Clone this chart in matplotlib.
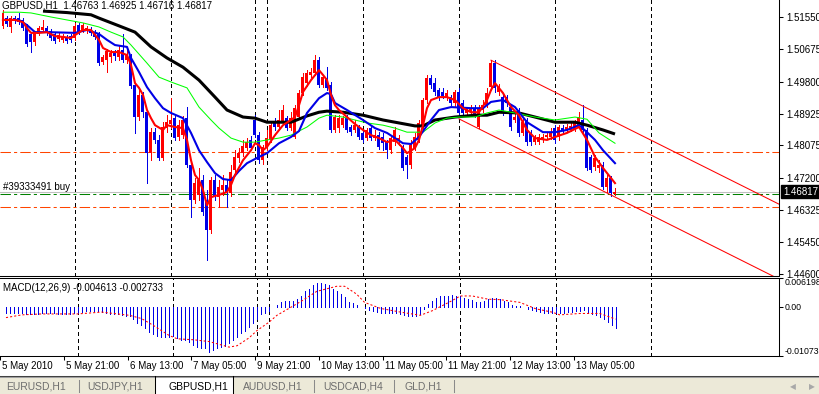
import matplotlib
matplotlib.use("Agg")
import matplotlib.pyplot as plt
import matplotlib.transforms as mtransforms
from matplotlib.patches import Rectangle
from matplotlib.lines import Line2D
from matplotlib.ticker import FormatStrFormatter
import numpy as np

plt.rcParams['font.family'] = ['Liberation Sans', 'DejaVu Sans']

# ---------------- data (GBPUSD H1) ----------------
opens = [1.5131, 1.5152, 1.5128, 1.5152, 1.5152, 1.5147, 1.5131, 1.5109, 1.5087, 1.5109,
         1.5120, 1.5125, 1.5117, 1.5109, 1.5095, 1.5093, 1.5101, 1.5103, 1.5098, 1.5133,
         1.5120, 1.5117, 1.5122, 1.5114, 1.5109, 1.5033, 1.5038, 1.5047, 1.5060, 1.5047,
         1.5065, 1.5038, 1.5049, 1.4971, 1.4884, 1.4944, 1.4897, 1.4786, 1.4843, 1.4822,
         1.4773, 1.4854, 1.4865, 1.4881, 1.4830, 1.4835, 1.4881, 1.4754, 1.4659, 1.4673,
         1.4713, 1.4659, 1.4578, 1.4713, 1.4667, 1.4686, 1.4700, 1.4678, 1.4740, 1.4773,
         1.4786, 1.4800, 1.4822, 1.4876, 1.4835, 1.4767, 1.4800, 1.4822, 1.4870, 1.4857,
         1.4870, 1.4881, 1.4854, 1.4830, 1.4884, 1.4949, 1.4976, 1.4998, 1.5003, 1.5038,
         1.4971, 1.4990, 1.4971, 1.4849, 1.4854, 1.4862, 1.4881, 1.4857, 1.4849, 1.4857,
         1.4841, 1.4827, 1.4854, 1.4827, 1.4835, 1.4830, 1.4816, 1.4794, 1.4816, 1.4822,
         1.4803, 1.4776, 1.4754, 1.4800, 1.4822, 1.4862, 1.4930, 1.4990, 1.4976, 1.4957,
         1.4952, 1.4935, 1.4938, 1.4922, 1.4952, 1.4922, 1.4895, 1.4897, 1.4908, 1.4857,
         1.4903, 1.4916, 1.4965, 1.5030, 1.4952, 1.4938, 1.4938, 1.4911, 1.4876, 1.4903,
         1.4841, 1.4876, 1.4841, 1.4816, 1.4816, 1.4822, 1.4830, 1.4830, 1.4854, 1.4830,
         1.4854, 1.4849, 1.4849, 1.4849, 1.4857, 1.4876, 1.4849, 1.4776, 1.4748, 1.4746,
         1.4754, 1.4694, 1.4719, 1.46763]
highs = [1.5174, 1.5158, 1.5158, 1.5158, 1.5166, 1.5152, 1.5136, 1.5114, 1.5117, 1.5131,
         1.5147, 1.5131, 1.5122, 1.5114, 1.5112, 1.5109, 1.5106, 1.5109, 1.5139, 1.5139,
         1.5139, 1.5131, 1.5128, 1.5120, 1.5114, 1.5052, 1.5068, 1.5065, 1.5065, 1.5079,
         1.5109, 1.5065, 1.5055, 1.4976, 1.4957, 1.4952, 1.4903, 1.4854, 1.4854, 1.4835,
         1.4870, 1.4889, 1.4935, 1.4887, 1.4876, 1.4887, 1.4911, 1.4767, 1.4719, 1.4746,
         1.4727, 1.4686, 1.4721, 1.4727, 1.4713, 1.4727, 1.4713, 1.4754, 1.4794, 1.4800,
         1.4822, 1.4827, 1.4832, 1.4889, 1.4843, 1.4808, 1.4849, 1.4870, 1.4881, 1.4903,
         1.4916, 1.4887, 1.4897, 1.4916, 1.4957, 1.5003, 1.5011, 1.5017, 1.5052, 1.5047,
         1.4998, 1.5019, 1.4979, 1.4889, 1.4889, 1.4887, 1.4889, 1.4862, 1.4876, 1.4862,
         1.4849, 1.4854, 1.4862, 1.4849, 1.4843, 1.4841, 1.4822, 1.4835, 1.4857, 1.4835,
         1.4808, 1.4781, 1.4822, 1.4841, 1.4876, 1.4935, 1.4998, 1.4998, 1.4990, 1.4963,
         1.4963, 1.4957, 1.4944, 1.4957, 1.4963, 1.4930, 1.4911, 1.4916, 1.4916, 1.4916,
         1.4930, 1.4963, 1.5038, 1.5038, 1.4973, 1.4944, 1.4944, 1.4916, 1.4892, 1.4908,
         1.4881, 1.4881, 1.4849, 1.4835, 1.4838, 1.4838, 1.4843, 1.4854, 1.4862, 1.4862,
         1.4862, 1.4865, 1.4870, 1.4876, 1.4897, 1.4916, 1.4854, 1.4781, 1.4781, 1.4767,
         1.4762, 1.4727, 1.4724, 1.46925]
lows = [1.5125, 1.5131, 1.5114, 1.5139, 1.5136, 1.5120, 1.5076, 1.5060, 1.5079, 1.5106,
        1.5114, 1.5106, 1.5093, 1.5084, 1.5090, 1.5087, 1.5084, 1.5087, 1.5093, 1.5109,
        1.5114, 1.5112, 1.5106, 1.5095, 1.5025, 1.5028, 1.5006, 1.5033, 1.5038, 1.5038,
        1.5033, 1.5030, 1.4963, 1.4841, 1.4876, 1.4884, 1.4705, 1.4767, 1.4813, 1.4767,
        1.4767, 1.4843, 1.4854, 1.4822, 1.4822, 1.4827, 1.4748, 1.4613, 1.4651, 1.4659,
        1.4618, 1.4496, 1.4570, 1.4659, 1.4640, 1.4673, 1.4640, 1.4670, 1.4732, 1.4762,
        1.4778, 1.4794, 1.4794, 1.4830, 1.4759, 1.4757, 1.4794, 1.4816, 1.4849, 1.4851,
        1.4865, 1.4849, 1.4849, 1.4827, 1.4879, 1.4944, 1.4968, 1.4992, 1.4998, 1.4965,
        1.4965, 1.4957, 1.4843, 1.4843, 1.4843, 1.4857, 1.4843, 1.4835, 1.4843, 1.4824,
        1.4816, 1.4822, 1.4822, 1.4822, 1.4797, 1.4794, 1.4773, 1.4786, 1.4808, 1.4808,
        1.4740, 1.4719, 1.4746, 1.4794, 1.4816, 1.4851, 1.4922, 1.4963, 1.4944, 1.4930,
        1.4935, 1.4930, 1.4916, 1.4914, 1.4887, 1.4889, 1.4889, 1.4892, 1.4884, 1.4854,
        1.4897, 1.4911, 1.4957, 1.4952, 1.4944, 1.4889, 1.4914, 1.4849, 1.4870, 1.4832,
        1.4835, 1.4808, 1.4808, 1.4811, 1.4811, 1.4816, 1.4824, 1.4824, 1.4813, 1.4822,
        1.4841, 1.4843, 1.4846, 1.4846, 1.4854, 1.4843, 1.4740, 1.4735, 1.4740, 1.4735,
        1.4689, 1.4681, 1.4670, 1.46716]
closes = [1.5166, 1.5136, 1.5152, 1.5144, 1.5141, 1.5125, 1.5082, 1.5087, 1.5112, 1.5125,
          1.5128, 1.5112, 1.5098, 1.5090, 1.5106, 1.5103, 1.5090, 1.5093, 1.5131, 1.5114,
          1.5133, 1.5125, 1.5112, 1.5101, 1.5030, 1.5047, 1.5063, 1.5057, 1.5049, 1.5065,
          1.5038, 1.5052, 1.4968, 1.4884, 1.4944, 1.4897, 1.4786, 1.4843, 1.4822, 1.4773,
          1.4857, 1.4870, 1.4876, 1.4827, 1.4862, 1.4876, 1.4754, 1.4659, 1.4705, 1.4713,
          1.4626, 1.4578, 1.4713, 1.4667, 1.4694, 1.4700, 1.4678, 1.4735, 1.4776, 1.4786,
          1.4805, 1.4816, 1.4800, 1.4835, 1.4767, 1.4803, 1.4827, 1.4862, 1.4857, 1.4876,
          1.4903, 1.4854, 1.4881, 1.4908, 1.4949, 1.4992, 1.5003, 1.5006, 1.5038, 1.4971,
          1.4992, 1.4963, 1.4849, 1.4884, 1.4881, 1.4881, 1.4849, 1.4843, 1.4862, 1.4830,
          1.4822, 1.4849, 1.4827, 1.4835, 1.4803, 1.4813, 1.4794, 1.4827, 1.4849, 1.4827,
          1.4746, 1.4754, 1.4808, 1.4830, 1.4868, 1.4930, 1.4990, 1.4971, 1.4952, 1.4938,
          1.4941, 1.4949, 1.4922, 1.4952, 1.4895, 1.4895, 1.4903, 1.4908, 1.4889, 1.4908,
          1.4916, 1.4949, 1.5030, 1.4963, 1.4965, 1.4897, 1.4922, 1.4857, 1.4884, 1.4841,
          1.4870, 1.4816, 1.4816, 1.4827, 1.4830, 1.4830, 1.4835, 1.4843, 1.4822, 1.4857,
          1.4846, 1.4857, 1.4860, 1.4868, 1.4884, 1.4849, 1.4746, 1.4740, 1.4773, 1.4754,
          1.4694, 1.4719, 1.4678, 1.46817]

# moving averages (bar index, price)
red_ma_idx = [0, 3, 5, 6, 7, 9, 11, 13, 15, 17, 18, 20, 22, 24, 25, 27, 29, 31, 32, 33,
              34, 35, 36, 37, 38, 40, 41, 43, 45, 46, 47, 48, 49, 50, 51, 52, 54, 56, 57, 58,
              60, 62, 63, 64, 65, 66, 68, 70, 72, 73, 74, 75, 77, 79, 80, 81, 82, 83, 84, 86,
              88, 90, 92, 94, 96, 98, 100, 101, 103, 104, 105, 106, 107, 109, 111, 113, 115, 117, 119, 121,
              122, 123, 125, 127, 129, 131, 133, 136, 138, 141, 144, 146, 148, 150, 153]
red_ma_val = [1.5147, 1.5147, 1.5141, 1.5125, 1.5112, 1.5112, 1.5114, 1.5103, 1.5101, 1.5098,
              1.5106, 1.5120, 1.5120, 1.5093, 1.5071, 1.5060, 1.5060, 1.5052, 1.5025, 1.4976,
              1.4963, 1.4944, 1.4903, 1.4881, 1.4862, 1.4849, 1.4862, 1.4857, 1.4854, 1.4822,
              1.4767, 1.4727, 1.4713, 1.4686, 1.4645, 1.4667, 1.4673, 1.4681, 1.4700, 1.4727,
              1.4767, 1.4794, 1.4813, 1.4808, 1.4794, 1.4803, 1.4835, 1.4862, 1.4876, 1.4884,
              1.4916, 1.4952, 1.4984, 1.5011, 1.4998, 1.4984, 1.4944, 1.4916, 1.4903, 1.4884,
              1.4865, 1.4849, 1.4835, 1.4827, 1.4816, 1.4822, 1.4800, 1.4786, 1.4800, 1.4822,
              1.4862, 1.4908, 1.4930, 1.4938, 1.4938, 1.4930, 1.4908, 1.4897, 1.4897, 1.4930,
              1.4957, 1.4976, 1.4949, 1.4911, 1.4889, 1.4849, 1.4827, 1.4822, 1.4830, 1.4841,
              1.4857, 1.4822, 1.4776, 1.4746, 1.4705]
blue_ma_idx = [0, 4, 6, 8, 11, 18, 21, 24, 26, 28, 31, 32, 34, 36, 38, 40, 42, 45, 47, 49,
               51, 53, 55, 57, 59, 61, 64, 66, 69, 72, 74, 76, 79, 81, 82, 83, 86, 90, 93, 96,
               100, 102, 104, 107, 109, 112, 117, 120, 122, 125, 128, 131, 135, 138, 141, 144, 146, 148, 150, 153]
blue_ma_val = [1.5147, 1.5147, 1.5133, 1.5114, 1.5114, 1.5112, 1.5120, 1.5109, 1.5093, 1.5079,
               1.5074, 1.5044, 1.5006, 1.4965, 1.4935, 1.4908, 1.4895, 1.4881, 1.4841, 1.4794,
               1.4762, 1.4732, 1.4716, 1.4713, 1.4738, 1.4759, 1.4776, 1.4786, 1.4813, 1.4830,
               1.4846, 1.4895, 1.4935, 1.4949, 1.4946, 1.4922, 1.4903, 1.4876, 1.4854, 1.4841,
               1.4813, 1.4811, 1.4830, 1.4876, 1.4903, 1.4911, 1.4908, 1.4908, 1.4925, 1.4930,
               1.4911, 1.4870, 1.4843, 1.4843, 1.4849, 1.4862, 1.4843, 1.4822, 1.4794, 1.4759]
green_ma_idx = [0, 4, 7, 12, 20, 24, 27, 30, 32, 36, 39, 42, 46, 49, 52, 54, 57, 60, 63, 66,
                69, 72, 76, 79, 81, 85, 88, 91, 95, 98, 101, 105, 108, 111, 114, 118, 121, 124, 128, 133,
                138, 143, 146, 149, 153]
green_ma_val = [1.5168, 1.5168, 1.5166, 1.5155, 1.5139, 1.5128, 1.5114, 1.5101, 1.5079, 1.5030,
                1.4992, 1.4979, 1.4963, 1.4911, 1.4876, 1.4854, 1.4827, 1.4816, 1.4816, 1.4822,
                1.4827, 1.4835, 1.4857, 1.4881, 1.4889, 1.4884, 1.4876, 1.4868, 1.4862, 1.4854,
                1.4843, 1.4843, 1.4868, 1.4881, 1.4884, 1.4884, 1.4895, 1.4903, 1.4895, 1.4884,
                1.4876, 1.4884, 1.4878, 1.4841, 1.4813]
black_ma_idx = [10, 16, 22, 24, 29, 33, 37, 41, 45, 49, 53, 56, 60, 63, 66, 72, 76, 79, 81, 85,
                90, 95, 99, 103, 105, 108, 113, 118, 121, 124, 129, 133, 138, 143, 146, 150, 153]
black_ma_val = [1.5171, 1.5167, 1.5161, 1.5152, 1.5131, 1.5114, 1.5074, 1.5044, 1.5019, 1.4984,
                1.4938, 1.4903, 1.4884, 1.4881, 1.4870, 1.4870, 1.4887, 1.4897, 1.4900, 1.4897,
                1.4889, 1.4876, 1.4868, 1.4860, 1.4860, 1.4876, 1.4884, 1.4889, 1.4889, 1.4897,
                1.4895, 1.4884, 1.4870, 1.4870, 1.4862, 1.4849, 1.4838]

# MACD(12,26,9): main (histogram) and signal
macd_main = [-0.0014, -0.0014, -0.0015, -0.0015, -0.0015, -0.0016, -0.0016, -0.0016, -0.0016, -0.0015,
             -0.0015, -0.0015, -0.0015, -0.0016, -0.0016, -0.0016, -0.0016, -0.0015, -0.0013, -0.0011,
             -0.0010, -0.0009, -0.0009, -0.0009, -0.0012, -0.0015, -0.0016, -0.0017, -0.0017, -0.0018,
             -0.0020, -0.0021, -0.0027, -0.0036, -0.0041, -0.0047, -0.0055, -0.0059, -0.0063, -0.0067,
             -0.0067, -0.0066, -0.0064, -0.0068, -0.0073, -0.0073, -0.0078, -0.0084, -0.0087, -0.0089,
             -0.0091, -0.0098, -0.0094, -0.0091, -0.0088, -0.0085, -0.0080, -0.0073, -0.0066, -0.0058,
             -0.0052, -0.0044, -0.0036, -0.0026, -0.0016, -0.0015, -0.0009, -0.0002, 0.0004, 0.0009,
             0.0011, 0.0012, 0.0013, 0.0017, 0.0023, 0.0034, 0.0039, 0.0046, 0.0051, 0.0051,
             0.0049, 0.0047, 0.0038, 0.0033, 0.0027, 0.0020, 0.0010, 0.0007, 0.0003, -0.0002,
             -0.0004, -0.0007, -0.0009, -0.0011, -0.0013, -0.0013, -0.0014, -0.0015, -0.0015, -0.0016,
             -0.0018, -0.0021, -0.0021, -0.0020, -0.0016, -0.0005, 0.0005, 0.0012, 0.0019, 0.0024,
             0.0024, 0.0024, 0.0025, 0.0024, 0.0022, 0.0019, 0.0016, 0.0014, 0.0010, 0.0009,
             0.0013, 0.0016, 0.0019, 0.0019, 0.0016, 0.0013, 0.0009, 0.0004, 0.0001, 0.0001,
             -0.0002, -0.0005, -0.0007, -0.0010, -0.0012, -0.0014, -0.0014, -0.0015, -0.0015, -0.0014,
             -0.0014, -0.0012, -0.0011, -0.0009, -0.0009, -0.0008, -0.0013, -0.0016, -0.0019, -0.0023,
             -0.0027, -0.0034, -0.0041, -0.004613]
signal_idx = [0, 4, 9, 18, 24, 31, 34, 37, 41, 43, 47, 51, 56, 58, 61, 63, 66, 68, 70, 74,
              78, 83, 85, 88, 90, 94, 99, 104, 107, 112, 114, 117, 121, 124, 129, 133, 137, 139, 144, 149, 153]
signal_val = [-0.0024, -0.0018, -0.0016, -0.0016, -0.0012, -0.0019, -0.0026, -0.0041, -0.0063, -0.0070,
              -0.0072, -0.0076, -0.0088, -0.0085, -0.0068, -0.0052, -0.0034, -0.0019, -0.0009, 0.0011,
              0.0033, 0.0044, 0.0044, 0.0027, 0.0009, -0.0004, -0.0012, -0.0019, -0.0009, 0.0013,
              0.0023, 0.0023, 0.0016, 0.0015, 0.0009, -0.0005, -0.0012, -0.0018, -0.0015, -0.0015, -0.002733]

# time axis
tick_idx = [-1, 15, 31, 47, 63, 79, 95, 111, 127, 143]
tick_labels = ["5 May 2010", "5 May 21:00", "6 May 13:00", "7 May 05:00", "9 May 21:00",
               "10 May 13:00", "11 May 05:00", "11 May 21:00", "12 May 13:00", "13 May 05:00"]
separator_idx = [18, 42, 63, 66, 90, 114, 138, 162]

price_ticks = [1.44600, 1.45450, 1.46325, 1.47200, 1.48075, 1.48925, 1.49800, 1.50675, 1.51550]
macd_ticks = [-0.01073, 0.0, 0.006198]
macd_tick_labels = ["-0.01073", "0.00", "0.006198"]

# trade / objects
order_price = 1.46755
order_label = "#39333491 buy"
level_prices = [1.47885, 1.46395]
chan_upper_idx = [122, 194]
chan_upper_px = [1.5038, 1.4648]
chan_lower_idx = [114, 194]
chan_lower_px = [1.4879, 1.4445]

symbol = "GBPUSD,H1"
tabs = ["EURUSD,H1", "USDJPY,H1", "GBPUSD,H1", "AUDUSD,H1", "USDCAD,H4", "GLD,H1"]
tab_centers = [36, 115, 198, 273, 353, 423]
tab_seps = [79, 314, 394, 454]
active_tab = 2

# ---------------- figure ----------------
W, H = 820, 394
fig = plt.figure(figsize=(W / 100, H / 100), dpi=100)
fig.patch.set_facecolor('white')

def fx(px):
    return px / W

def fy(py):
    return 1 - py / H

MAIN_BOTTOM = 276
SUB_TOP, SUB_BOTTOM = 278, 356
PLOT_RIGHT = 779

ax = fig.add_axes([0, fy(MAIN_BOTTOM), fx(PLOT_RIGHT), MAIN_BOTTOM / H])
axm = fig.add_axes([0, fy(SUB_BOTTOM), fx(PLOT_RIGHT), (SUB_BOTTOM - SUB_TOP) / H])

RED = '#FF0000'
BLUE = '#0000E6'
FS = 7

for a in (ax, axm):
    a.set_xlim(-0.75, 194.0)
    a.set_facecolor('white')
    a.spines['left'].set_visible(False)
    for s in ('right', 'bottom', 'top'):
        a.spines[s].set_linewidth(0.75)
        a.spines[s].set_color('black')
ax.spines['top'].set_visible(False)
ax.set_ylim(1.44534, 1.520105)
axm.set_ylim(-0.01073, 0.006198)

# separators
for s in separator_idx:
    for a in (ax, axm):
        a.axvline(s, color='black', lw=0.75, dashes=(3, 3), zorder=1, antialiased=False)

# horizontal levels
for lp in level_prices:
    ax.axhline(lp, color='#FF4500', lw=0.75, dashes=(10, 3, 3, 3), zorder=2)
ax.axhline(closes[-1], color='#C0C0C0', lw=0.75, zorder=2)
ax.axhline(order_price, color='#008000', lw=0.75, dashes=(10, 3, 3, 3), zorder=2)

# candles
o = np.array(opens); hi = np.array(highs); lo = np.array(lows); c = np.array(closes)
idx = np.arange(len(c))
cols = np.where(c >= o, RED, BLUE)
ax.vlines(idx, lo, hi, colors=cols, linewidth=0.6, zorder=3, antialiased=False)
ax.bar(idx, np.maximum(np.abs(c - o), 0.00008), bottom=np.minimum(o, c), width=0.75,
       color=cols, linewidth=0, zorder=3, antialiased=False)

# moving averages
ax.plot(black_ma_idx, black_ma_val, color='black', lw=2.2, zorder=4, solid_capstyle='butt')
ax.plot(green_ma_idx, green_ma_val, color='#00FF00', lw=0.75, zorder=4)
ax.plot(blue_ma_idx, blue_ma_val, color=BLUE, lw=1.5, zorder=4)
ax.plot(red_ma_idx, red_ma_val, color=RED, lw=1.5, zorder=4)

# channel
ax.plot(chan_upper_idx, chan_upper_px, color=RED, lw=0.75, zorder=4)
ax.plot(chan_lower_idx, chan_lower_px, color=RED, lw=0.75, zorder=4)

# price axis
ax.set_xticks([])
ax.yaxis.tick_right()
ax.set_yticks(price_ticks)
ax.yaxis.set_major_formatter(FormatStrFormatter('%.5f'))
ax.tick_params(axis='y', length=3, width=0.75, pad=2, labelsize=FS, direction='out')

# current price box
ax.annotate(f"{closes[-1]:.5f}", xy=(1, closes[-1]), xycoords=('axes fraction', 'data'),
            xytext=(4, 0), textcoords='offset pixels', va='center', ha='left',
            color='white', fontsize=FS, annotation_clip=False, zorder=10,
            bbox=dict(boxstyle='square,pad=0.18', fc='black', ec='black'))

# order label
ax.annotate(order_label, xy=(0, order_price), xycoords=('axes fraction', 'data'),
            xytext=(3, 2), textcoords='offset pixels', va='bottom', ha='left',
            fontsize=FS, color='black', zorder=6)

# header
fig.text(fx(2), fy(6), f"{symbol}  {opens[-1]:.5f} {highs[-1]:.5f} {lows[-1]:.5f} {closes[-1]:.5f}",
         fontsize=FS, va='center', ha='left', color='black')

# MACD panel
axm.vlines(idx, 0, macd_main, colors=BLUE, linewidth=0.6, zorder=3, antialiased=False)
axm.plot(signal_idx, signal_val, color=RED, lw=0.75, dashes=(2, 2), zorder=4)
axm.yaxis.tick_right()
axm.set_yticks(macd_ticks)
axm.set_yticklabels(macd_tick_labels)
axm.tick_params(axis='y', length=3, width=0.75, pad=1, labelsize=6.3, direction='out')
yl = axm.get_yticklabels()
yl[0].set_verticalalignment('bottom')
yl[2].set_verticalalignment('top')
fig.text(fx(3), fy(288), f"MACD(12,26,9) {macd_main[-1]:.6f} {signal_val[-1]:.6f}",
         fontsize=FS, va='center', ha='left')

# time axis
axm.set_xticks([t - 0.5 for t in tick_idx])
axm.set_xticklabels([])
axm.tick_params(axis='x', length=3, width=0.75, direction='out')
trans = mtransforms.blended_transform_factory(axm.transData, fig.transFigure)
trans = trans + mtransforms.ScaledTranslation(2 / 100, 0, fig.dpi_scale_trans)
for t, lab in zip(tick_idx, tick_labels):
    fig.text(t - 0.5, fy(366), lab, transform=trans, fontsize=FS, va='center', ha='left')

# tab bar
fig.patches.append(Rectangle((0, 0), 1, (H - 376) / H, transform=fig.transFigure,
                             fc='#ECE9D8', ec='none', zorder=0))
fig.lines.append(Line2D([0, 1], [fy(375.5), fy(375.5)], transform=fig.transFigure,
                        color='#404040', lw=0.75))
fig.lines.append(Line2D([0, 1], [fy(376.5), fy(376.5)], transform=fig.transFigure,
                        color='#A0A0A0', lw=0.75))
fig.patches.append(Rectangle((fx(155), 0), fx(233) - fx(155), (H - 375) / H,
                             transform=fig.transFigure, fc='white', ec='none', zorder=1))
for xx in (155, 233):
    fig.lines.append(Line2D([fx(xx), fx(xx)], [0, fy(375.5)], transform=fig.transFigure,
                            color='black', lw=0.75, zorder=2))
for xx in tab_seps:
    fig.lines.append(Line2D([fx(xx), fx(xx)], [fy(392), fy(380)], transform=fig.transFigure,
                            color='#8A8A8A', lw=0.75))
for k, (name, cx) in enumerate(zip(tabs, tab_centers)):
    fig.text(fx(cx), fy(386.5), name, fontsize=7.5, ha='center', va='center',
             color='black' if k == active_tab else '#6E6E6E', zorder=3)
fig.text(fx(793), fy(387), '\u25C0', fontsize=5.5, ha='center', va='center', color='#A8A8A8',
         family=['DejaVu Sans'])
fig.text(fx(812), fy(387), '\u25B6', fontsize=5.5, ha='center', va='center', color='#A8A8A8',
         family=['DejaVu Sans'])

fig.savefig('out.png', dpi=100)
